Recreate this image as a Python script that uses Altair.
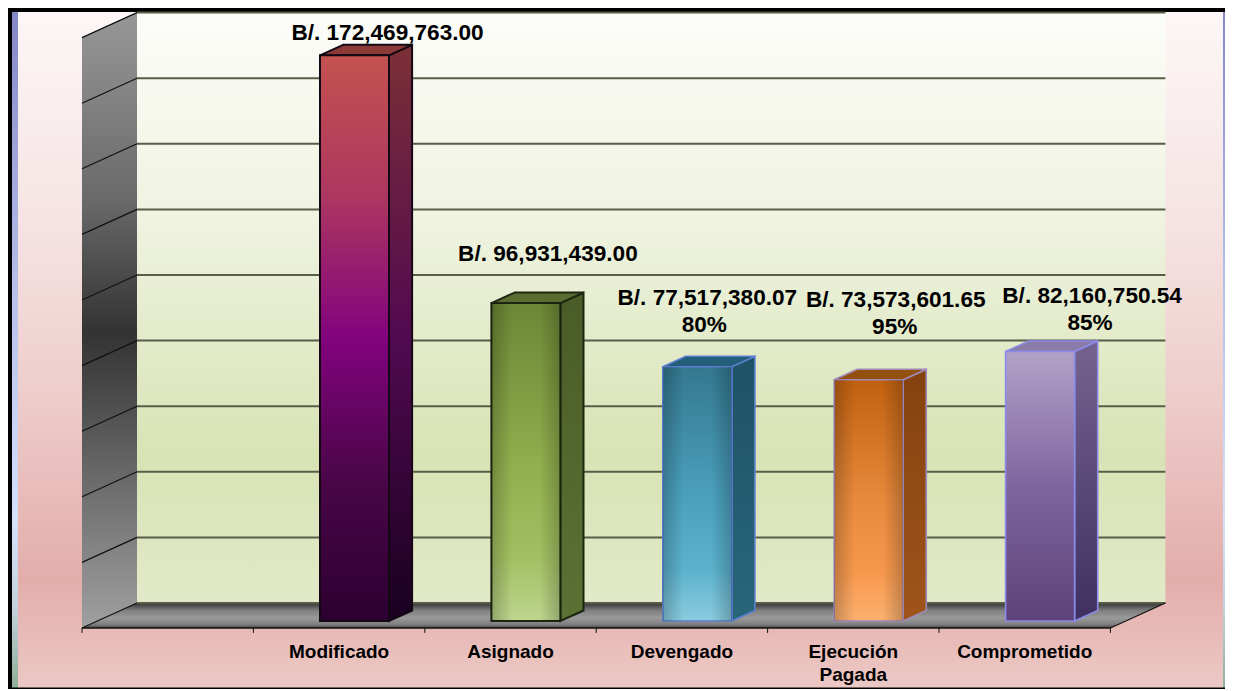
import altair as alt
import pandas as pd

categories = ["Modificado", "Asignado", "Devengado", "Ejecución\nPagada", "Comprometido"]
values = [172469763.00, 96931439.00, 77517380.07, 73573601.65, 82160750.54]
amount_labels = ["B/. 172,469,763.00", "B/. 96,931,439.00", "B/. 77,517,380.07", "B/. 73,573,601.65", "B/. 82,160,750.54"]
percent_labels = ["", "", "80%", "95%", "85%"]
grid_values = [v * 20e6 for v in range(10)]

# layout
W, H = 1217, 681
PX_X, PX_Y = 171.4, 3.28e-6      # px per slot, px per unit
X0_PX, Y0_PX = 82 - 8, 628 - 8   # front-plane origin inside the chart
DX, DY = 55 / PX_X, 25 / PX_Y    # wall depth in data units
F0, F1 = 0.28, 0.70              # bar front / back depth fraction
BAR_W = 69 / PX_X
NSLOTS, YMAX = 6, 180e6

x_scale = alt.Scale(domain=[-X0_PX / PX_X, (W - X0_PX) / PX_X], range=[0, W])
y_scale = alt.Scale(domain=[(Y0_PX - H) / PX_Y, Y0_PX / PX_Y], range=[H, 0])
XMIN, XMAX = x_scale.domain
YLO, YHI = y_scale.domain


def X(field):
    return alt.X(field, type="quantitative", scale=x_scale, axis=None)


def Y(field):
    return alt.Y(field, type="quantitative", scale=y_scale, axis=None)


def grad(stops, horizontal=False):
    st = [alt.GradientStop(color=c, offset=o) for o, c in stops]
    if horizontal:
        return alt.LinearGradient(gradient="linear", stops=st, x1=0, x2=1, y1=0, y2=0)
    return alt.LinearGradient(gradient="linear", stops=st, x1=0, x2=0, y1=0, y2=1)


def px_x(px):
    return (px - 8 - X0_PX) / PX_X


def px_y(px):
    return (Y0_PX - (px - 8)) / PX_Y


def rect(x1, x2, y1, y2, fill, **kw):
    d = pd.DataFrame({"x": [x1], "x2": [x2], "y": [y1], "y2": [y2]})
    return alt.Chart(d).mark_rect(fill=fill, **kw).encode(
        x=X("x"), x2=alt.X2("x2"), y=Y("y"), y2=alt.Y2("y2"))


def side_area(x0, x1, lo0, hi0, lo1, hi1, fill, **kw):
    d = pd.DataFrame({"x": [x0, x1], "lo": [lo0, lo1], "hi": [hi0, hi1]})
    return alt.Chart(d).mark_area(fill=fill, orient="vertical", **kw).encode(
        x=X("x"), y=Y("hi"), y2=alt.Y2("lo"))


def flat_area(y0, y1, l0, r0, l1, r1, fill, **kw):
    d = pd.DataFrame({"y": [y0, y1], "l": [l0, l1], "r": [r0, r1]})
    return alt.Chart(d).mark_area(fill=fill, orient="horizontal", **kw).encode(
        y=Y("y"), x=X("l"), x2=alt.X2("r"))


layers = []

# page background
layers.append(rect(XMIN, XMAX, YLO, YHI, grad([
    (0, "#fdf7f7"), (0.3, "#f6e4e4"), (0.55, "#eecfcd"), (0.84, "#e3adaa"), (1, "#ecc9c5")])))
# left and right colour strips
strip = grad([(0, "#8486c6"), (0.4, "#b5bfe8"), (0.75, "#d6e0fb"), (0.88, "#c2d2dc"), (1, "#8fae98")])
layers.append(rect(px_x(12), px_x(18), YLO, YHI, strip))
layers.append(rect(px_x(1223), XMAX, YLO, YHI, strip))
# black frame
layers.append(rect(XMIN, px_x(12), YLO, YHI, "#000000"))
layers.append(rect(XMIN, XMAX, px_y(12), YHI, "#000000"))
layers.append(rect(XMIN, XMAX, YLO, px_y(687.5), "#000000"))

# back wall
layers.append(rect(DX, NSLOTS + DX, DY, YMAX + DY, grad([
    (0, "#fcfdf9"), (0.35, "#eff3e0"), (0.75, "#d8e3b5"), (1, "#e2e9c8")])))

# left wall
layers.append(side_area(0, DX, 0, YMAX, DY, YMAX + DY, grad([
    (0, "#979797"), (0.3, "#6a6a6a"), (0.52, "#333333"), (0.78, "#6f6f6f"), (1, "#a0a0a0")])))

# floor
layers.append(flat_area(DY, 0, DX, NSLOTS + DX, 0, NSLOTS, grad([
    (0, "#333333"), (0.3, "#7f7f7f"), (0.6, "#9a9a9a"), (0.85, "#808080"), (1, "#484848")])))

# gridlines on back wall and left wall
grid = pd.DataFrame({"y": [v + DY for v in grid_values], "x": [DX] * 10, "x2": [NSLOTS + DX] * 10})
layers.append(alt.Chart(grid).mark_rule(color="#585d48", strokeWidth=2).encode(
    x=X("x"), x2=alt.X2("x2"), y=Y("y")))
wall_rows = []
for v in grid_values:
    wall_rows += [{"v": v, "x": 0, "y": v}, {"v": v, "x": DX, "y": v + DY}]
layers.append(alt.Chart(pd.DataFrame(wall_rows)).mark_line(color="#111111", strokeWidth=1.2).encode(
    x=X("x"), y=Y("y"), detail="v:N"))
# front axis line, ticks, floor right edge
layers.append(alt.Chart(pd.DataFrame({"y": [0], "x": [0], "x2": [NSLOTS]})).mark_rule(color="#111111", strokeWidth=1.5).encode(
    x=X("x"), x2=alt.X2("x2"), y=Y("y")))
ticks = pd.DataFrame({"x": list(range(NSLOTS + 1)), "y": [0] * (NSLOTS + 1), "y2": [-1.5e6] * (NSLOTS + 1)})
layers.append(alt.Chart(ticks).mark_rule(color="#111111", strokeWidth=1).encode(
    x=X("x"), y=Y("y"), y2=alt.Y2("y2")))
layers.append(alt.Chart(pd.DataFrame({"x": [NSLOTS, NSLOTS + DX], "y": [0, DY]})).mark_line(color="#111111", strokeWidth=1.2).encode(
    x=X("x"), y=Y("y")))

# bars
bar_styles = [
    dict(front=[(0, "#c4524f"), (0.25, "#ad3660"), (0.5, "#82037e"), (0.75, "#4a0648"), (1, "#2c0030")],
         side=[(0, "#7b3036"), (0.5, "#520a50"), (1, "#190020")], top="#8b3a38", stroke="#140814", sw=2),
    dict(front=[(0, "#6c8736"), (0.5, "#90ae4d"), (0.8, "#a2c062"), (1, "#bdd58e")],
         side=[(0, "#4a5c27"), (1, "#5b7234")], top="#5b6c30", stroke="#1c2610", sw=2),
    dict(front=[(0, "#34788f"), (0.5, "#4a9fbd"), (0.8, "#5cb2ce"), (1, "#8accde")],
         side=[(0, "#1f5266"), (1, "#28667a")], top="#235f78", stroke="#5a7fd0", sw=1.6),
    dict(front=[(0, "#c0600f"), (0.5, "#e88a3c"), (0.8, "#f7994d"), (1, "#fbb070")],
         side=[(0, "#84420f"), (1, "#a0541a")], top="#94500f", stroke="#a08ab8", sw=1.6),
    dict(front=[(0, "#b2a2c8"), (0.5, "#7f659e"), (1, "#5c4278")],
         side=[(0, "#75638f"), (1, "#3f3060")], top="#8b7ba8", stroke="#8a8ae8", sw=1.6),
]
shine = [(0, "#00000038"), (0.3, "#00000000"), (0.7, "#00000000"), (1, "#00000038")]
cylinder = [False, True, True, True, False]

for i, (v, st) in enumerate(zip(values, bar_styles)):
    c = i + 1.5
    l, r = c - BAR_W / 2, c + BAR_W / 2
    kw = dict(stroke=st["stroke"], strokeWidth=st["sw"], strokeJoin="miter")
    layers.append(side_area(r + F0 * DX, r + F1 * DX, F0 * DY, v + F0 * DY, F1 * DY, v + F1 * DY, grad(st["side"]), **kw))
    layers.append(flat_area(v + F1 * DY, v + F0 * DY, l + F1 * DX, r + F1 * DX, l + F0 * DX, r + F0 * DX, st["top"], **kw))
    layers.append(rect(l + F0 * DX, r + F0 * DX, F0 * DY, v + F0 * DY, grad(st["front"]), **kw))
    if cylinder[i]:
        layers.append(rect(l + F0 * DX, r + F0 * DX, F0 * DY, v + F0 * DY, grad(shine, horizontal=True)))

# value labels
amount_dx = [33, 22, 10, 27, 52]
amount_dy = [-22, -49, -69, -80, -56]
pct_dx = [0, 0, 7, 26, 50]
pct_dy = [0, 0, -42, -53, -29]
font = dict(font="Liberation Sans", fontWeight="bold", color="#000000", align="center", baseline="middle")
for i, v in enumerate(values):
    anchor = pd.DataFrame({"x": [i + 1.5 + F0 * DX], "y": [v + F0 * DY], "t": [amount_labels[i]], "p": [percent_labels[i]]})
    layers.append(alt.Chart(anchor).mark_text(fontSize=22.6, dx=amount_dx[i], dy=amount_dy[i], **font).encode(
        x=X("x"), y=Y("y"), text="t:N"))
    if percent_labels[i]:
        layers.append(alt.Chart(anchor).mark_text(fontSize=22.6, dx=pct_dx[i], dy=pct_dy[i], **font).encode(
            x=X("x"), y=Y("y"), text="p:N"))

# category labels
cat = pd.DataFrame({"x": [i + 1.5 for i in range(5)], "y": [0] * 5, "t": categories})
layers.append(alt.Chart(cat).mark_text(
    fontSize=19, font="Liberation Sans", fontWeight="bold", color="#000000", align="center",
    baseline="top", dy=15, lineBreak="\n", lineHeight=23).encode(
    x=X("x"), y=Y("y"), text="t:N"))

chart = alt.layer(*layers).properties(
    width=W, height=H, padding=0, autosize=alt.AutoSizeParams(type="none")
).configure_view(stroke=None)

chart.save("out.html", embed_options={"renderer": "svg", "actions": False})
